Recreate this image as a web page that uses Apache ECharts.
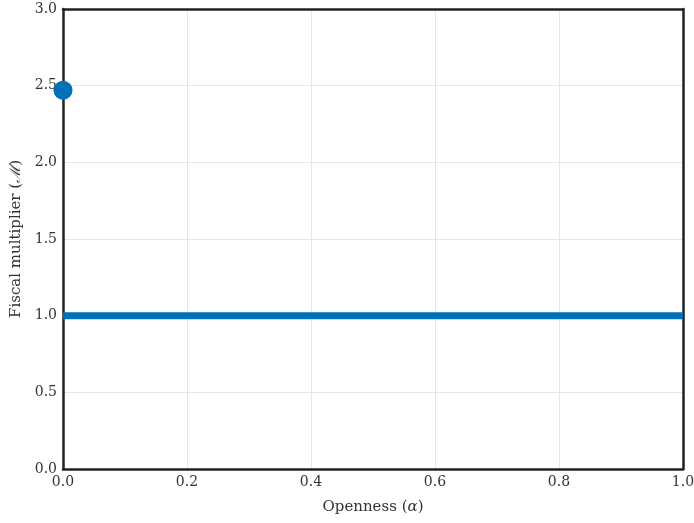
<!DOCTYPE html>
<html>
<head>
<meta charset="utf-8">
<script src="https://cdn.jsdelivr.net/npm/echarts@6/dist/echarts.min.js"></script>
<style>
  html, body { margin: 0; padding: 0; background: #fff; }
  #chart { width: 694px; height: 523px; }
</style>
</head>
<body>
<div id="chart"></div>
<script>
// Fiscal multiplier as a function of openness
const openness = [0, 1];
const multiplier = [1, 1];
const closedPointX = [0];
const closedPointY = [2.47];

const blue = '#0071b7';
const frame = '#222';
const font = '"DejaVu Serif", "Liberation Serif", serif';
const nameStyle = {
  fontFamily: font, fontSize: 15, color: '#333',
  rich: { m: { fontFamily: font, fontSize: 15, fontStyle: 'italic', color: '#333' } }
};
const tickStyle = { fontFamily: font, fontSize: 14, color: '#333' };
const grid = { show: true, lineStyle: { color: '#e6e6e6', width: 1 } };
const edge = { show: true, onZero: false, lineStyle: { color: frame, width: 2.5 } };

const chart = echarts.init(document.getElementById('chart'));
chart.setOption({
  animation: false,
  grid: {
    left: 63, right: 11, top: 9, bottom: 54,
    outerBoundsMode: 'none', containLabel: false
  },
  xAxis: [
    {
      type: 'value', min: 0, max: 1, interval: 0.2, position: 'bottom',
      name: 'Openness ({m|α})', nameLocation: 'middle', nameGap: 31,
      nameTextStyle: nameStyle,
      axisLine: edge, axisTick: { show: false },
      axisLabel: Object.assign({ margin: 6, formatter: v => v.toFixed(1) }, tickStyle),
      splitLine: grid
    },
    {
      type: 'value', min: 0, max: 1, position: 'top',
      axisLine: edge, axisTick: { show: false },
      axisLabel: { show: false }, splitLine: { show: false }
    }
  ],
  yAxis: [
    {
      type: 'value', min: 0, max: 3, interval: 0.5, position: 'left',
      name: 'Fiscal multiplier ({m|ℳ})', nameLocation: 'middle', nameGap: 37,
      nameTextStyle: nameStyle,
      axisLine: edge, axisTick: { show: false },
      axisLabel: Object.assign({ margin: 6, formatter: v => v.toFixed(1) }, tickStyle),
      splitLine: grid
    },
    {
      type: 'value', min: 0, max: 3, position: 'right',
      axisLine: edge, axisTick: { show: false },
      axisLabel: { show: false }, splitLine: { show: false }
    }
  ],
  series: [
    {
      type: 'line',
      data: openness.map((x, i) => [x, multiplier[i]]),
      showSymbol: false,
      lineStyle: { color: blue, width: 7 },
      z: 3
    },
    {
      type: 'scatter',
      data: closedPointX.map((x, i) => [x, closedPointY[i]]),
      symbolSize: 19,
      itemStyle: { color: blue, opacity: 1 },
      clip: false,
      z: 4
    }
  ]
});
</script>
</body>
</html>
